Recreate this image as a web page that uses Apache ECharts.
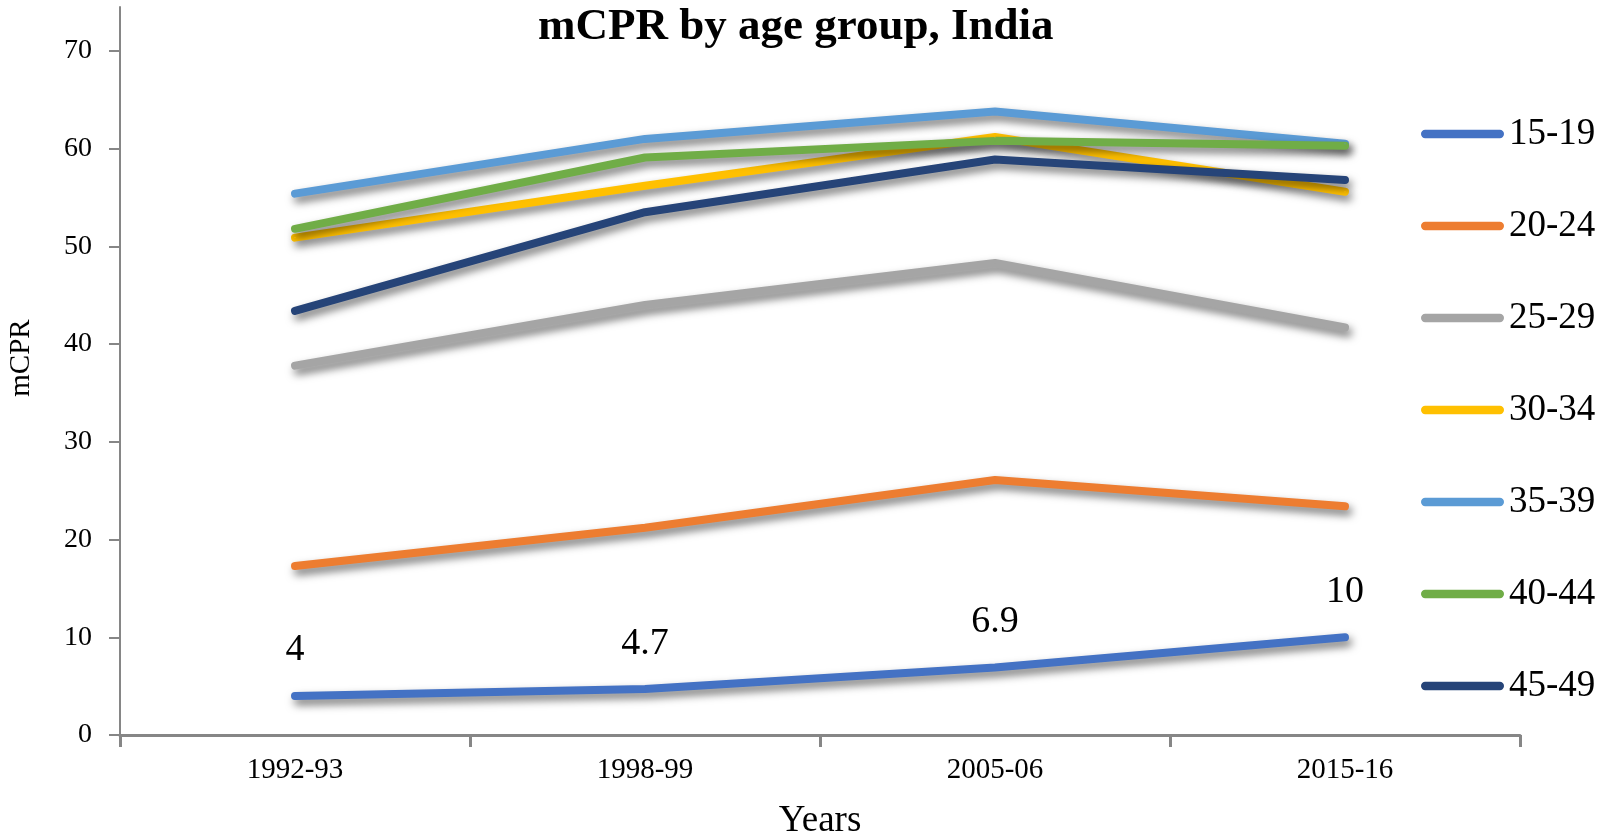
<!DOCTYPE html>
<html>
<head>
<meta charset="utf-8">
<script src="https://cdn.jsdelivr.net/npm/echarts@6/dist/echarts.min.js"></script>
<style>
  html, body { margin: 0; padding: 0; background: #fff; }
  #myChart { width: 1599px; height: 840px; }
</style>
</head>
<body>
<div id="myChart"></div>
<script>
// years on the x axis
const years = ['1992-93', '1998-99', '2005-06', '2015-16'];
const yTicks = [0, 10, 20, 30, 40, 50, 60, 70];

// mCPR per age group
const g15_19 = [4, 4.7, 6.9, 10];
const g20_24 = [17.3, 21.2, 26.1, 23.4];
const g25_29 = [37.8, 44.0, 48.3, 41.7];
const g30_34 = [50.9, 56.2, 61.2, 55.6];
const g35_39 = [55.4, 61.0, 63.8, 60.5];
const g40_44 = [51.8, 59.1, 60.8, 60.3];
const g45_49 = [43.4, 53.5, 58.9, 56.8];

const font = '"Liberation Serif", "Times New Roman", serif';

function makeLine(name, data, color, withLabel) {
  return {
    name: name,
    type: 'line',
    data: data,
    symbol: 'circle',
    symbolSize: 1,
    itemStyle: { color: color },
    lineStyle: {
      width: 8,
      color: color,
      cap: 'round',
      join: 'round',
      shadowColor: 'rgba(0,0,0,0.55)',
      shadowBlur: 8,
      shadowOffsetX: 3,
      shadowOffsetY: 5
    },
    label: {
      show: withLabel,
      position: 'top',
      distance: 26,
      fontFamily: font,
      fontSize: 38,
      color: '#000'
    },
    emphasis: { disabled: true }
  };
}

const myChart = echarts.init(document.getElementById('myChart'));
myChart.setOption({
  animation: false,
  title: {
    text: 'mCPR by age group, India',
    left: 533,
    top: 0,
    textStyle: { fontFamily: font, fontSize: 45, fontWeight: 'bold', color: '#000' }
  },
  legend: {
    orient: 'vertical',
    left: 1416,
    top: 109,
    itemWidth: 83,
    itemHeight: 10,
    itemGap: 52,
    icon: 'path://M5,0 L95,0 A5,5 0 0 1 95,10 L5,10 A5,5 0 0 1 5,0 Z',
    textStyle: { fontFamily: font, fontSize: 37, lineHeight: 40, color: '#000' }
  },
  grid: {
    left: 120,
    right: 79,
    top: 7,
    bottom: 105,
    containLabel: false,
    outerBoundsMode: 'none'
  },
  xAxis: {
    type: 'category',
    data: years,
    boundaryGap: true,
    name: 'Years',
    nameLocation: 'middle',
    nameGap: 68,
    nameTextStyle: { fontFamily: font, fontSize: 37, color: '#000' },
    axisLine: { show: true, lineStyle: { color: '#868686', width: 3 } },
    axisTick: { show: true, length: 12, lineStyle: { color: '#868686', width: 3 } },
    axisLabel: { fontFamily: font, fontSize: 29, color: '#000', margin: 21 }
  },
  yAxis: {
    type: 'value',
    min: 0,
    max: 74.5,
    name: 'mCPR',
    nameLocation: 'middle',
    nameGap: 84,
    nameTextStyle: { fontFamily: font, fontSize: 29, color: '#000', padding: [0, 0, 0, 26] },
    axisLine: { show: true, lineStyle: { color: '#868686', width: 2 } },
    axisTick: { show: true, length: 11, customValues: yTicks, lineStyle: { color: '#868686', width: 2 } },
    axisLabel: { fontFamily: font, fontSize: 28, color: '#000', margin: 28, customValues: yTicks },
    splitLine: { show: false }
  },
  series: [
    makeLine('15-19', g15_19, '#4472C4', true),
    makeLine('20-24', g20_24, '#ED7D31', false),
    makeLine('25-29', g25_29, '#A5A5A5', false),
    makeLine('30-34', g30_34, '#FFC000', false),
    makeLine('35-39', g35_39, '#5B9BD5', false),
    makeLine('40-44', g40_44, '#70AD47', false),
    makeLine('45-49', g45_49, '#264478', false)
  ]
});
</script>
</body>
</html>
